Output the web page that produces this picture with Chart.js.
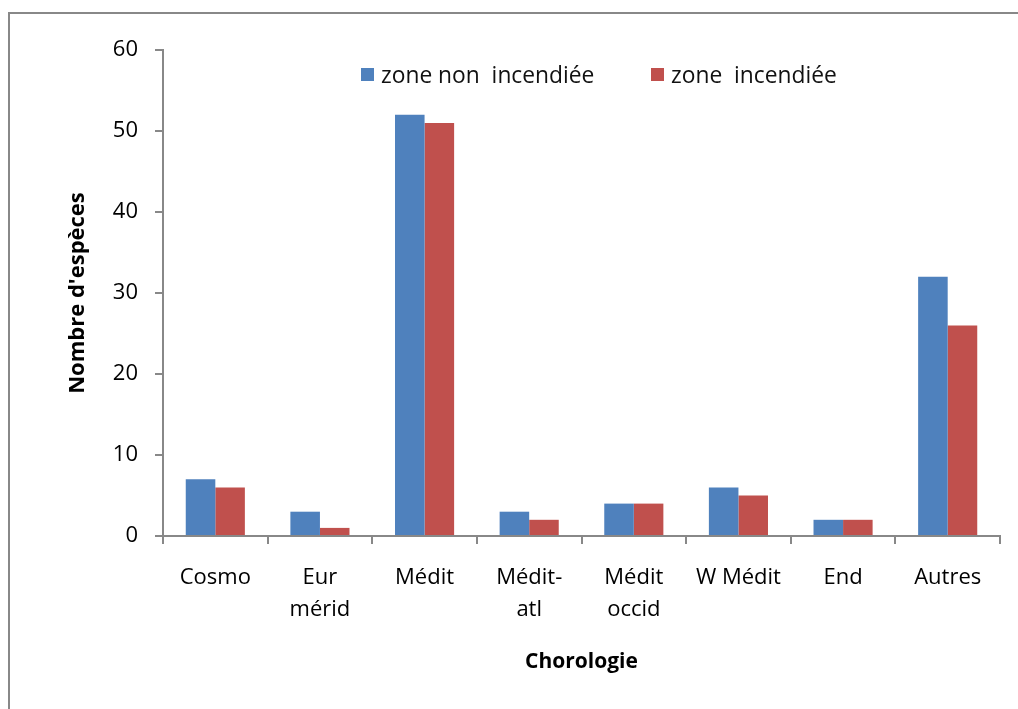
<!DOCTYPE html>
<html>
<head>
<meta charset="utf-8">
<script src="https://cdn.jsdelivr.net/npm/chart.js@4"></script>
<style>
  html, body { margin: 0; padding: 0; background: #fff; overflow: hidden; }
  #wrap { position: relative; width: 1018px; height: 709px; }
  #frame { position: absolute; left: 8px; top: 12px; width: 1100px; height: 800px; border: 2px solid #888; box-sizing: border-box; }
  #legend { position: absolute; top: 0; left: 0; font-family: "Open Sans", sans-serif; font-size: 22.8px; color: #111; }
  .item { position: absolute; top: 59px; height: 30px; display: flex; align-items: center; white-space: pre; }
  .box { width: 13px; height: 13px; margin-right: 7px; }
</style>
</head>
<body>
<div id="wrap">
  <div id="frame"></div>
  <canvas id="c" width="1018" height="709"></canvas>
  <div id="legend"></div>
</div>
<script>
const categories = ["Cosmo", ["Eur", "mérid"], "Médit", ["Médit-", "atl"], ["Médit", "occid"], "W Médit", "End", "Autres"];
const nonBurned = [7, 3, 52, 3, 4, 6, 2, 32];
const burned = [6, 1, 51, 2, 4, 5, 2, 26];
const seriesNames = ["zone non  incendiée", "zone  incendiée"];
const colors = ["#4F81BD", "#C0504D"];

const axisColor = "#888";
const fam = "'Open Sans', sans-serif";
const tickFont = { family: fam, size: 22 };

const chart = new Chart(document.getElementById("c"), {
  type: "bar",
  data: {
    labels: categories,
    datasets: [
      { label: seriesNames[0], data: nonBurned, backgroundColor: colors[0] },
      { label: seriesNames[1], data: burned, backgroundColor: colors[1] }
    ]
  },
  options: {
    responsive: false,
    animation: false,
    layout: { padding: { top: 50, right: 18, left: 0, bottom: 0 } },
    plugins: { legend: { display: false }, tooltip: { enabled: false } },
    datasets: { bar: { categoryPercentage: 0.565, barPercentage: 1.0 } },
    scales: {
      x: {
        grid: { drawOnChartArea: false, drawTicks: true, tickLength: 8, color: axisColor, lineWidth: 2, offset: true },
        border: { color: axisColor, width: 2 },
        ticks: { color: "#000", font: { ...tickFont, lineHeight: 1.45 }, padding: 18, maxRotation: 0, autoSkip: false },
        title: { display: true, text: "Chorologie", color: "#000", font: { family: fam, size: 21, weight: "bold" }, padding: { top: 0, bottom: 34 } },
        afterFit: s => { s.height = 173; }
      },
      y: {
        min: 0, max: 60,
        grid: { drawOnChartArea: false, drawTicks: true, tickLength: 8, color: axisColor, lineWidth: 2 },
        border: { color: axisColor, width: 2 },
        ticks: { stepSize: 10, color: "#000", font: tickFont, padding: 17 },
        title: { display: true, text: "Nombre d'espèces", color: "#000", font: { family: fam, size: 22, weight: "bold" }, padding: { top: 65, bottom: 0 } },
        afterFit: s => { s.width = 163; }
      }
    }
  }
});

const legendLeft = [361, 651];
document.getElementById("legend").innerHTML = chart.data.datasets.map((d, i) =>
  `<div class="item" style="left:${legendLeft[i]}px"><span class="box" style="background:${d.backgroundColor}"></span>${d.label}</div>`
).join("");
</script>
</body>
</html>
